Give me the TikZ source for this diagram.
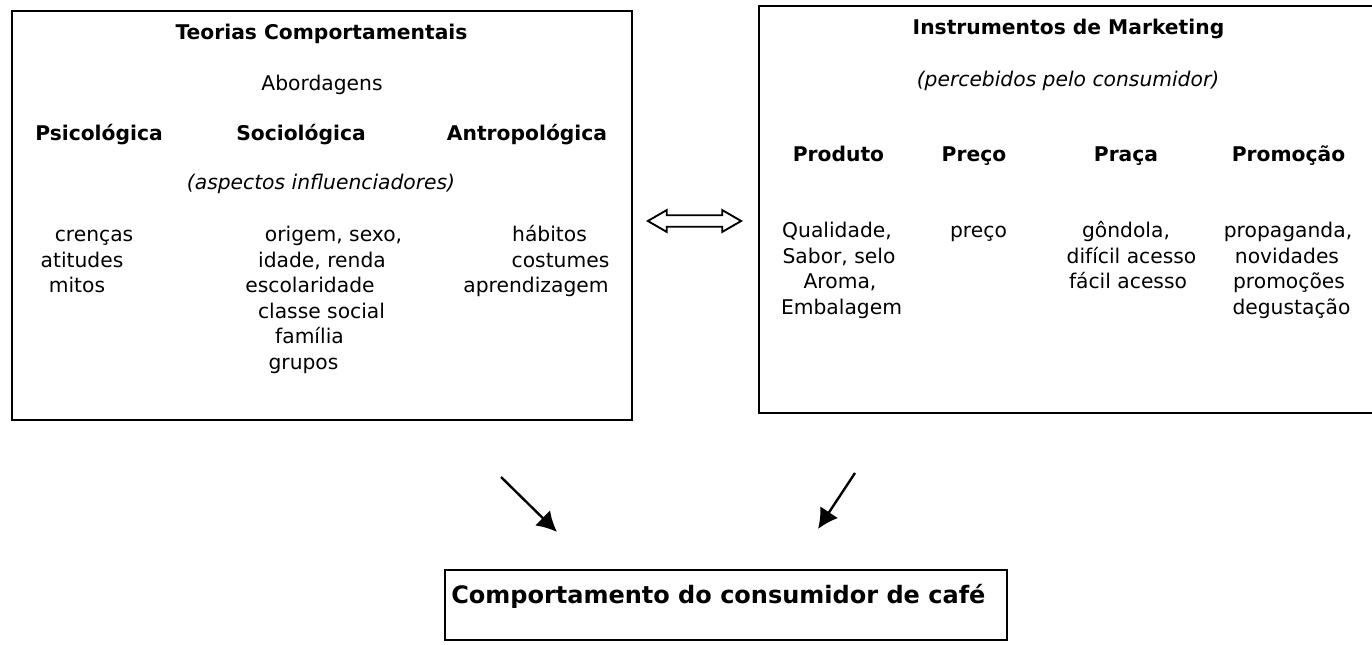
\documentclass[tikz,border=0pt]{standalone}
\usepackage{fontspec}
\setmainfont{DejaVu Sans}
\usetikzlibrary{arrows.meta,shapes.arrows,fit}
\tikzset{
  box/.style={draw, line width=1.8pt, inner sep=0pt},
  txt/.style={anchor=base, inner sep=0pt, font=\fontsize{15.2}{18}\selectfont},
  hd/.style={anchor=base, inner sep=0pt, font=\fontsize{15.2}{18}\selectfont\bfseries},
  itx/.style={anchor=base, inner sep=0pt, font=\fontsize{15.2}{18}\selectfont\itshape},
  arr/.style={line width=1.8pt, -{Latex[length=15pt,width=16pt]}},
}
\begin{document}
\begin{tikzpicture}[x=0.75pt,y=-0.75pt]
\useasboundingbox (0,0) rectangle (1372,645);
% boxes
\node[box, fit={(12,11) (632,420)}] (lbox) {};
\node[box, fit={(759,6) (1380,413)}] (rbox) {};
\node[box, fit={(445,570) (1007,640)}] (bbox) {};
% double arrow between boxes
\node[double arrow, draw, line width=1.4pt, minimum height=70pt, inner xsep=0pt, inner ysep=3.6pt,
      double arrow head extend=3.9pt, double arrow tip angle=60] (dbl) at (694.5,221) {};
% left box texts
\node[hd] (t1) at (321.5,40) {Teorias Comportamentais};
\node[txt] (t2) at (322,91) {Abordagens};
\node[hd] (t3) at (99,141) {Psicológica};
\node[hd] (t4) at (301,141) {Sociológica};
\node[hd] (t5) at (527,141) {Antropológica};
\node[itx] (t6) at (321,190) {(aspectos influenciadores)};
\node[txt] (p1) at (94,242) {crenças};
\node[txt] (p2) at (82,267.5) {atitudes};
\node[txt] (p3) at (77,293) {mitos};
\node[txt] (s1) at (333.5,242) {origem, sexo,};
\node[txt] (s2) at (322,267.5) {idade, renda};
\node[txt] (s3) at (310,293) {escolaridade};
\node[txt] (s4) at (321.5,318.5) {classe social};
\node[txt] (s5) at (309.5,344) {família};
\node[txt] (s6) at (303.5,369.5) {grupos};
\node[txt] (a1) at (549.5,242) {hábitos};
\node[txt] (a2) at (560.5,267.5) {costumes};
\node[txt] (a3) at (536,293) {aprendizagem};
% right box texts
\node[hd] (r1) at (1068.5,35) {Instrumentos de Marketing};
\node[itx] (r2) at (1068,87) {(percebidos pelo consumidor)};
\node[hd] (h1) at (838.5,162) {Produto};
\node[hd] (h2) at (974,162) {Preço};
\node[hd] (h3) at (1126,162) {Praça};
\node[hd] (h4) at (1288.5,162) {Promoção};
\node[txt] (q1) at (837,238) {Qualidade,};
\node[txt] (q2) at (839,263.5) {Sabor, selo};
\node[txt] (q3) at (840,289) {Aroma,};
\node[txt] (q4) at (841.5,314.5) {Embalagem};
\node[txt] (c1) at (978.5,238) {preço};
\node[txt] (g1) at (1126,238) {gôndola,};
\node[txt] (g2) at (1131.5,263.5) {difícil acesso};
\node[txt] (g3) at (1128,289) {fácil acesso};
\node[txt] (m1) at (1288,238) {propaganda,};
\node[txt] (m2) at (1287,263.5) {novidades};
\node[txt] (m3) at (1289,289) {promoções};
\node[txt] (m4) at (1291.5,314.5) {degustação};
% bottom box text
\node[anchor=base west, inner sep=0pt, font=\fontsize{18}{22}\selectfont\bfseries] (b1) at (451,603) {Comportamento do consumidor de café};
% arrows towards bottom box
\coordinate (la1) at (501,477);
\coordinate (la2) at (557,532);
\coordinate (ra1) at (855,473);
\coordinate (ra2) at (818,529);
\draw[arr] (la1) -- (la2);
\draw[arr] (ra1) -- (ra2);
\end{tikzpicture}
\end{document}
